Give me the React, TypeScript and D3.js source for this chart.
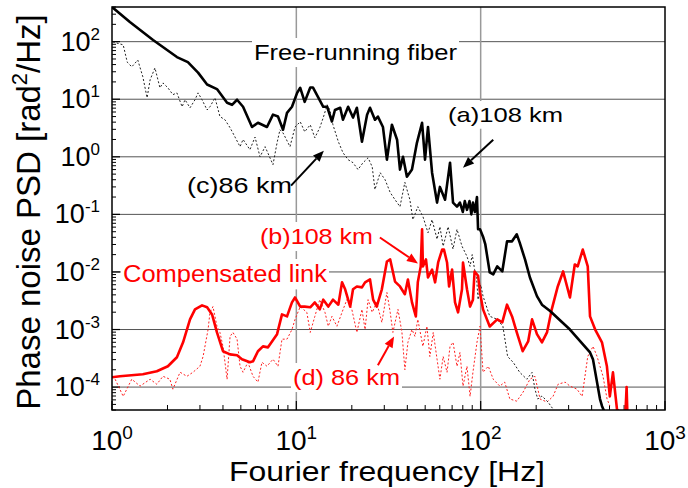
import React from 'react';
import * as d3 from 'd3';

type P = [number, number];

const xTickValues = [1, 10, 100, 1000];
const xTickExps = ['0', '1', '2', '3'];
const yTickValues = [1e2, 1e1, 1e0, 1e-1, 1e-2, 1e-3, 1e-4];
const yTickExps = ['2', '1', '0', '-1', '-2', '-3', '-4'];

// (a) 108 km free-running fiber (black solid)
const free108: P[] = [
  [1.0, 400], [1.25, 220], [1.67, 107], [2.25, 54], [2.58, 44], [2.93, 29], [3.28, 18], [3.71, 15],
  [4.21, 8.7], [4.48, 8.0], [4.77, 9.8], [5.14, 7.4], [5.75, 3.3], [6.19, 3.9], [6.93, 3.3], [7.47, 5.4],
  [7.95, 5.0], [8.47, 2.95], [8.9, 5.8], [9.47, 7.4], [10.1, 12.9], [10.5, 15.8], [11.1, 9.0], [11.9, 16],
  [12.3, 16], [13.1, 11], [14.0, 7.4], [14.7, 7.4], [15.6, 4.1], [16.2, 6.5], [17.3, 7.1], [17.9, 4.4],
  [19.1, 7.4], [20.3, 4.8], [21.3, 7.1], [22.7, 1.83], [24.2, 5.4], [25.1, 7.1], [26.7, 4.4], [27.7, 5.0],
  [29.5, 3.3], [31.0, 0.89], [33.0, 3.6], [35.2, 1.98], [36.5, 0.6], [37.9, 1.0], [39.8, 0.45], [42.4, 0.6],
  [45.1, 1.75], [48.1, 3.9], [49.9, 0.89], [51.8, 3.3], [54.5, 0.53], [58, 0.16], [60.1, 0.3], [64.1, 0.18],
  [68.2, 0.79], [70.8, 0.16], [74.4, 0.136], [77.2, 0.16], [80, 0.11], [82, 0.17], [84.3, 0.12], [87, 0.17],
  [89, 0.1], [90.8, 0.16], [93, 0.11], [95.5, 0.2], [96.8, 0.055], [99.2, 0.055], [103, 0.041], [106, 0.03],
  [112, 0.0098], [117, 0.0091], [123, 0.0125], [131, 0.0102], [139, 0.034], [148, 0.034], [157, 0.045],
  [163, 0.032], [174, 0.0165], [185, 0.008], [202, 0.0038], [215, 0.0027], [238, 0.0021], [305, 0.001],
  [392, 4.0e-4], [407, 3.0e-4], [444, 6.2e-5], [455, 4.7e-5], [473, 3.5e-5],
];

// (c) 86 km free-running fiber (black dotted)
const free86: P[] = [
  [1.01, 99], [1.15, 88], [1.21, 44], [1.28, 36.5], [1.38, 48], [1.47, 24.5], [1.55, 10.6], [1.61, 21.8],
  [1.71, 35], [1.82, 15.8], [1.89, 19.2], [2.01, 15.8], [2.14, 12], [2.25, 12.9], [2.4, 7.4], [2.49, 9.8],
  [2.65, 7.1], [2.82, 9.8], [2.93, 12.9], [3.08, 9.8], [3.28, 6.5], [3.4, 7.4], [3.62, 10.6], [3.85, 5.0],
  [4.1, 4.4], [4.37, 3.2], [4.65, 2.2], [4.95, 1.5], [5.14, 2.0], [5.6, 1.33], [5.97, 2.2], [6.35, 1.0],
  [6.77, 1.5], [7.47, 0.73], [7.86, 1.75], [8.15, 2.95], [8.47, 2.6], [9.24, 1.5], [9.84, 3.3], [10.5, 4.06],
  [11.1, 2.72], [11.9, 3.6], [12.6, 2.14], [13.4, 3.2], [14.0, 4.8], [14.7, 8.0], [15.2, 6.5], [15.8, 3.6],
  [16.9, 1.83], [17.9, 1.18], [19.1, 0.89], [20.3, 0.79], [21.6, 0.6], [23.0, 0.79], [24.5, 0.96], [25.8, 0.67],
  [26.7, 0.27], [28.5, 0.53], [30.3, 0.4], [32.3, 0.24], [34.3, 0.18], [36.5, 0.136], [38.8, 0.36], [41.3, 0.18],
  [42.9, 0.081], [45.6, 0.136], [48.6, 0.092], [51.8, 0.048], [54.5, 0.081], [58, 0.037], [60.1, 0.061],
  [62.6, 0.028], [66.6, 0.061], [70.8, 0.025], [74.4, 0.055], [79.2, 0.028], [84.3, 0.0186], [87.6, 0.0125],
  [90, 0.02], [92.7, 0.011], [95, 0.008], [96.8, 0.0033], [100, 0.006], [103, 0.0038], [112, 0.0017],
  [123, 0.0015], [132, 0.00114], [140, 3.4e-4], [150, 2.7e-4], [163, 1.8e-4], [178, 1.37e-4], [190, 1.8e-4],
  [197, 9.2e-5], [204, 6.2e-5], [215, 7e-5], [232, 5.5e-5], [245, 4.3e-5],
];

// (b) 108 km compensated link (red solid)
const comp108: P[] = [
  [1.0, 1.48e-4], [1.105, 1.54e-4], [1.47, 1.67e-4], [1.75, 1.88e-4], [2.01, 2.3e-4], [2.25, 3.3e-4],
  [2.43, 6.0e-4], [2.65, 1.5e-3], [2.82, 2.24e-3], [3.08, 2.63e-3], [3.28, 2.43e-3], [3.49, 1.83e-3],
  [3.71, 8.9e-4], [4.0, 4.2e-4], [4.37, 3.7e-4], [4.77, 3.57e-4], [5.07, 3.05e-4], [5.6, 2.7e-4],
  [5.82, 2.8e-4], [6.19, 4.2e-4], [6.59, 5.1e-4], [7.02, 4.9e-4], [7.86, 8.3e-4], [8.36, 1.83e-3],
  [8.9, 1.69e-3], [9.47, 2.96e-3], [9.84, 3.6e-3], [10.5, 2.5e-3], [11.1, 2.5e-3], [11.9, 2.43e-3],
  [12.6, 2.96e-3], [13.4, 2.24e-3], [14.0, 3.3e-3], [14.9, 2.5e-3], [15.8, 3.3e-3], [16.9, 2.7e-3],
  [17.7, 6.6e-3], [18.4, 5.0e-3], [19.6, 2.5e-3], [20.3, 5.0e-3], [21.3, 5.6e-3], [22.7, 5.4e-3],
  [23.6, 6.6e-3], [25.1, 7.4e-3], [26.1, 3.3e-3], [27.3, 2.5e-3], [29.1, 5.0e-3], [31.0, 0.0152],
  [32.3, 0.0165], [34.3, 6.8e-3], [36.5, 5.6e-3], [38.8, 4.1e-3], [40.3, 7.4e-3], [42.4, 2.96e-3],
  [44.5, 1.69e-3], [45.6, 6.6e-3], [47.3, 0.0125], [48.1, 0.055], [48.6, 0.0125], [50.5, 0.0165],
  [51.8, 8.0e-3], [54.5, 0.011], [56.6, 6.6e-3], [58.8, 0.0146], [61.8, 0.0245], [63.2, 0.0245],
  [65.7, 0.0146], [67.4, 5.6e-3], [70.0, 0.011], [72.6, 2.96e-3], [75.4, 1.99e-3], [79.2, 5.0e-3],
  [80.2, 0.0146], [84.3, 5.0e-3], [87.6, 2.5e-3], [90.8, 3.3e-3], [92.7, 0.0102], [96.8, 8.6e-3],
  [99.2, 4.4e-3], [103, 2.24e-3], [112, 1.13e-3], [123, 1.5e-3], [131, 1.33e-3], [139, 2.7e-3],
  [148, 1.69e-3], [157, 8.9e-4], [169, 4.2e-4], [181, 6.2e-4], [190, 1.5e-3], [202, 8.3e-4], [215, 6.0e-4],
  [229, 8.9e-4], [243, 2.24e-3], [262, 5.6e-3], [280, 0.0102], [305, 3.6e-3], [324, 0.0135], [336, 0.0125],
  [358, 0.0245], [381, 0.0125], [392, 1.69e-3], [418, 1.0e-3], [455, 6.0e-4], [484, 2.3e-4], [502, 6.9e-5],
  [522, 1.8e-4], [549, 4.1e-5], [580, 3.5e-5], [610, 3.5e-5], [619, 1.0e-4], [625, 3.5e-5],
];

// (d) 86 km compensated link (red dotted)
const comp86: P[] = [
  [1.04, 1.37e-4], [1.15, 6.9e-5], [1.28, 1.37e-4], [1.42, 1.04e-4], [1.61, 1.37e-4], [1.75, 1.12e-4],
  [1.89, 1.54e-4], [2.06, 1.37e-4], [2.14, 9.2e-5], [2.34, 1.81e-4], [2.55, 1.54e-4], [2.75, 1.81e-4],
  [3.0, 2.3e-4], [3.12, 3.4e-4], [3.32, 1.0e-3], [3.4, 1.99e-3], [3.53, 2.5e-3], [3.71, 1.14e-3],
  [3.85, 8.9e-4], [4.0, 5.1e-4], [4.21, 1.37e-4], [4.37, 7.6e-4], [4.53, 8.9e-4], [4.77, 6.8e-4],
  [4.95, 2.3e-4], [5.14, 1.81e-4], [5.46, 2.7e-4], [5.82, 1.54e-4], [6.19, 1.22e-4], [6.51, 2.7e-4],
  [6.93, 2.3e-4], [7.47, 3.05e-4], [7.95, 2.3e-4], [8.36, 6.8e-4], [8.9, 6.8e-4], [9.47, 1.0e-3],
  [9.84, 1.5e-3], [10.5, 2.5e-3], [11.4, 1.99e-3], [11.9, 8.9e-4], [12.6, 1.69e-3], [13.4, 3.3e-3],
  [14.3, 1.99e-3], [14.9, 1.14e-3], [15.6, 1.69e-3], [16.6, 1.14e-3], [17.7, 1.99e-3], [18.8, 3.3e-3],
  [20.0, 2.24e-3], [21.3, 8.9e-4], [22.7, 2.24e-3], [23.6, 1.0e-3], [24.5, 3.3e-3], [25.8, 1.99e-3],
  [27.3, 2.96e-3], [29.1, 1.33e-3], [31.0, 4.4e-3], [32.3, 1.99e-3], [33.4, 8.9e-4], [35.6, 2.24e-3],
  [37.4, 8.9e-4], [38.8, 2.0e-4], [40.3, 6.0e-4], [42.4, 1.0e-3], [44.0, 7.6e-4], [45.6, 1.5e-3],
  [48.6, 5.1e-4], [51.1, 1.14e-3], [53.0, 3.4e-4], [55.3, 8.9e-4], [58.0, 3.05e-4], [60.1, 1.37e-4],
  [62.6, 3.4e-4], [65.7, 1.81e-4], [68.2, 5.1e-4], [70.8, 6.0e-4], [74.4, 2.3e-4], [77.2, 4.0e-4],
  [80.2, 1.04e-4], [84.3, 2.3e-4], [87.6, 6.9e-5], [90.8, 1.81e-4], [95.5, 6.0e-4], [99.2, 1.14e-3],
  [103, 1.81e-4], [110, 2.3e-4], [117, 1.37e-4], [127, 1.04e-4], [135, 1.22e-4], [144, 6.2e-5],
  [157, 5.7e-5], [170, 8.2e-5], [185, 1.37e-4], [197, 1.54e-4], [210, 6.2e-5], [229, 5.5e-5],
  [247, 6.9e-5], [263, 1.12e-4], [287, 1.22e-4], [305, 1.04e-4], [333, 9.2e-5], [355, 6.9e-5],
  [368, 1.54e-4], [381, 3.4e-4], [407, 5.1e-4], [428, 3.4e-4], [444, 2.3e-4], [461, 1.54e-4],
  [485, 6.2e-5], [502, 4.7e-5],
];

const labelTexts = ['Free-running fiber', '(a)108 km', '(c)86 km', '(b)108 km', 'Compensated link', '(d) 86 km'];
const labelColors = ['#000', '#000', '#000', '#f00', '#f00', '#f00'];

// arrows in data coordinates: [from, to]
const arrowLines: [P, P, string][] = [
  [[9.36, 0.316], [14.1, 1.28], '#000'],
  [[117, 1.98], [80.2, 0.647], '#000'],
  [[28.4, 0.0396], [45.7, 0.01403], '#f00'],
  [[27.7, 2.4e-4], [33.9, 7.6e-4], '#f00'],
];

const FONT = '"Liberation Sans", Arial, Helvetica, sans-serif';

export default function App() {
  const L = 112, R = 665, T = 7, B = 410;
  const x = d3.scaleLog().domain([1, 1000]).range([L, R]);
  const y = d3.scaleLog().domain([4e-5, 400]).range([B, T]);
  const line = d3.line<P>().x(d => x(d[0])).y(d => y(d[1]));

  const xMinor: number[] = [];
  [1, 10, 100].forEach(dec => { for (let k = 2; k <= 9; k++) xMinor.push(k * dec); });
  const yMinor: number[] = [];
  [1e-5, 1e-4, 1e-3, 1e-2, 1e-1, 1, 10, 100].forEach(dec => {
    for (let k = 2; k <= 9; k++) { const v = k * dec; if (v >= 4e-5 && v <= 400) yMinor.push(v); }
  });

  const labelPos = [
    { x: 254, y: 60, len: 203, size: 22 },
    { x: 448, y: 122, len: 115, size: 21 },
    { x: 187, y: 193, len: 105, size: 22 },
    { x: 260, y: 244, len: 113, size: 22 },
    { x: 123, y: 282, len: 204, size: 23 },
    { x: 293, y: 385, len: 107, size: 22 },
  ];

  const arrowHead = (x1: number, y1: number, x2: number, y2: number) => {
    const a = Math.atan2(y2 - y1, x2 - x1);
    const hl = 11, hw = 4.5;
    const bx = x2 - hl * Math.cos(a), by = y2 - hl * Math.sin(a);
    const px = -Math.sin(a) * hw, py = Math.cos(a) * hw;
    return { bx, by, pts: `${x2},${y2} ${bx + px},${by + py} ${bx - px},${by - py}` };
  };

  return (
    <div style={{ position: 'absolute', left: 0, top: 0 }}>
      <svg width={688} height={488} style={{ display: 'block', background: '#fff' }} fontFamily={FONT}>
        <defs>
          <clipPath id="plotclip"><rect x={L} y={T} width={R - L} height={B - T} /></clipPath>
        </defs>
        <rect x={0} y={0} width={688} height={488} fill="#fff" />
        {yTickValues.map((v, i) => (
          <line key={'gy' + i} x1={L} x2={R} y1={y(v)} y2={y(v)} stroke="#555" strokeWidth={1} />
        ))}
        {[10, 100].map((v, i) => (
          <line key={'gx' + i} x1={x(v)} x2={x(v)} y1={T} y2={B} stroke="#999" strokeWidth={1.5} />
        ))}
        {labelPos.map((p, i) => (
          <rect key={'bg' + i} x={p.x - 2} y={p.y - p.size * 1.0} width={p.len + 4} height={p.size * 1.32} fill="#fff" />
        ))}
        {yTickValues.map((v, i) => (
          <line key={'yt' + i} x1={L} x2={L + 8} y1={y(v)} y2={y(v)} stroke="#000" strokeWidth={1.2} />
        ))}
        {yMinor.map((v, i) => (
          <line key={'ym' + i} x1={L} x2={L + 4} y1={y(v)} y2={y(v)} stroke="#000" strokeWidth={1} />
        ))}
        {xTickValues.map((v, i) => (
          <line key={'xt' + i} x1={x(v)} x2={x(v)} y1={B} y2={B - 9} stroke="#000" strokeWidth={1.2} />
        ))}
        {xMinor.map((v, i) => (
          <line key={'xm' + i} x1={x(v)} x2={x(v)} y1={B} y2={B - 5} stroke="#000" strokeWidth={1} />
        ))}
        <g clipPath="url(#plotclip)" fill="none">
          <path d={line(comp86) || ''} stroke="#ff2020" strokeWidth={1} strokeDasharray="2,2" />
          <path d={line(free86) || ''} stroke="#222" strokeWidth={1} strokeDasharray="2,2" />
          <path d={line(comp108) || ''} stroke="#f00" strokeWidth={2.6} strokeLinejoin="round" />
          <path d={line(free108) || ''} stroke="#000" strokeWidth={2.6} strokeLinejoin="round" />
        </g>
        <rect x={L} y={T} width={R - L} height={B - T} fill="none" stroke="#000" strokeWidth={1.5} />
        {labelPos.map((p, i) => (
          <text key={'lb' + i} x={p.x} y={p.y} fontSize={p.size} fill={labelColors[i]}
            textLength={p.len} lengthAdjust="spacingAndGlyphs">{labelTexts[i]}</text>
        ))}
        {arrowLines.map(([a, b, c], i) => {
          const x1 = x(a[0]), y1 = y(a[1]), x2 = x(b[0]), y2 = y(b[1]);
          const h = arrowHead(x1, y1, x2, y2);
          return (
            <g key={'ar' + i}>
              <line x1={x1} y1={y1} x2={h.bx} y2={h.by} stroke={c} strokeWidth={2} />
              <polygon points={h.pts} fill={c} />
            </g>
          );
        })}
        {yTickValues.map((v, i) => (
          <text key={'yl' + i} x={100} y={y(v) + 9} fontSize={27} textAnchor="end" fill="#000">
            10<tspan dy={-11} fontSize={17}>{yTickExps[i]}</tspan>
          </text>
        ))}
        {xTickValues.map((v, i) => (
          <text key={'xl' + i} x={x(v)} y={450} fontSize={28} textAnchor="middle" fill="#000">
            10<tspan dy={-11} fontSize={19}>{xTickExps[i]}</tspan>
          </text>
        ))}
        <text x={229} y={481} fontSize={28} fill="#000" textLength={316} lengthAdjust="spacingAndGlyphs">Fourier frequency [Hz]</text>
        <text transform="translate(40,212) rotate(-90)" fontSize={33} textAnchor="middle" fill="#000">
          Phase noise PSD [rad<tspan dy={-13} fontSize={22}>2</tspan><tspan dy={13}>/Hz]</tspan>
        </text>
      </svg>
    </div>
  );
}
